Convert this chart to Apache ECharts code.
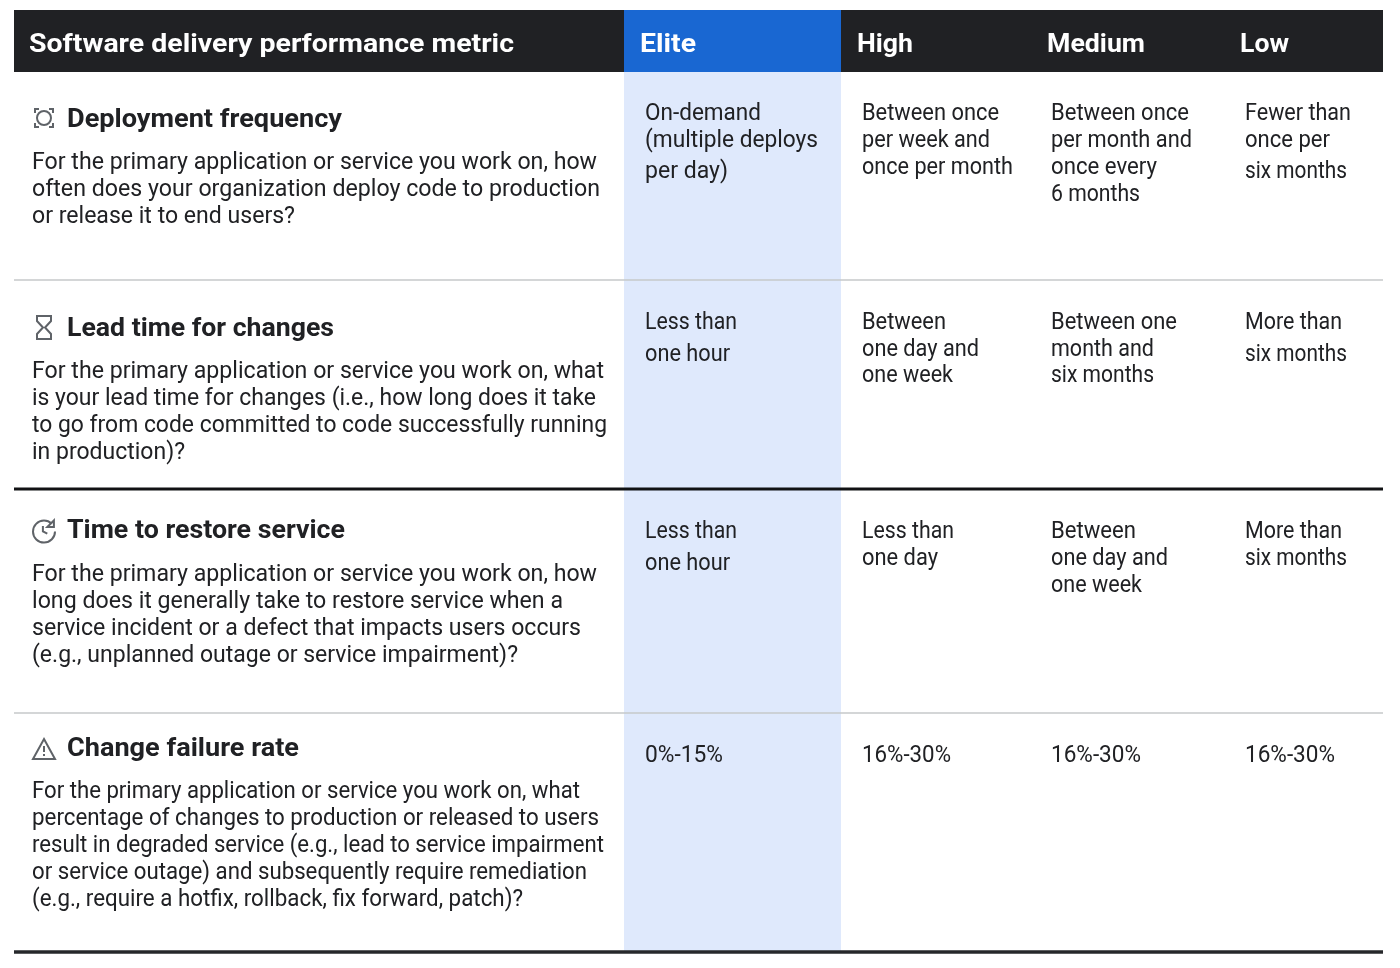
<!DOCTYPE html>
<html>
<head>
<meta charset="utf-8">
<title>Software delivery performance metric</title>
<script src="https://cdn.jsdelivr.net/npm/echarts@6/dist/echarts.min.js"></script>
<style>
  html, body { margin: 0; padding: 0; background: #fff; }
  #mainChart { width: 1400px; height: 968px; }
</style>
</head>
<body>
<div id="mainChart"></div>
<script>
// table content
const headers = ['Software delivery performance metric', 'Elite', 'High', 'Medium', 'Low'];
const metrics = ['Deployment frequency', 'Lead time for changes', 'Time to restore service', 'Change failure rate'];
const questions = [
  ['For the primary application or service you work on, how', 'often does your organization deploy code to production', 'or release it to end users?'],
  ['For the primary application or service you work on, what', 'is your lead time for changes (i.e., how long does it take', 'to go from code committed to code successfully running', 'in production)?'],
  ['For the primary application or service you work on, how', 'long does it generally take to restore service when a', 'service incident or a defect that impacts users occurs', '(e.g., unplanned outage or service impairment)?'],
  ['For the primary application or service you work on, what', 'percentage of changes to production or released to users', 'result in degraded service (e.g., lead to service impairment', 'or service outage) and subsequently require remediation', '(e.g., require a hotfix, rollback, fix forward, patch)?']
];
const elite = [
  ['On-demand', '(multiple deploys', 'per day)'],
  ['Less than', 'one hour'],
  ['Less than', 'one hour'],
  ['0%-15%']
];
const high = [
  ['Between once', 'per week and', 'once per month'],
  ['Between', 'one day and', 'one week'],
  ['Less than', 'one day'],
  ['16%-30%']
];
const medium = [
  ['Between once', 'per month and', 'once every', '6 months'],
  ['Between one', 'month and', 'six months'],
  ['Between', 'one day and', 'one week'],
  ['16%-30%']
];
const low = [
  ['Fewer than', 'once per', 'six months'],
  ['More than', 'six months'],
  ['More than', 'six months'],
  ['16%-30%']
];

// layout, in the pixel units of the hidden axes
const columnEdges = [14, 624, 841, 1031, 1224, 1383];
const headerTop = 10, headerBottom = 72;
const rowRules = [280, 489, 713, 952];
const ruleColors = ['#c6c8ca', '#111214', '#c6c8ca', '#26282b'];
const ruleWidths = [1.5, 3, 1.5, 3.5];
const headerX = [29, 640, 857, 1047, 1240];
const headerRight = [514, 696, 913, 1145, 1289];
const cellX = [645, 862, 1051, 1245];
const titleX = 67;
const titleRight = [342, 334, 345, 299];
const titleY = [118, 327, 529, 747];
const questionX = 32;
const questionY = [
  [161, 188, 215],
  [370, 397, 424, 451],
  [573, 600, 627, 654],
  [790, 817, 844, 871, 898]
];
const questionRight = [
  [597, 600, 295],
  [604, 596, 607, 185],
  [597, 563, 581, 518],
  [580, 599, 604, 587, 523]
];
const cellY = [
  [[112, 139, 170], [112, 139, 166], [112, 139, 166, 193], [112, 139, 170]],
  [[321, 353], [321, 348, 374], [321, 348, 374], [321, 353]],
  [[530, 562], [530, 557], [530, 557, 584], [530, 557]],
  [[754], [754], [754], [754]]
];
const cellRight = [
  [[761, 818, 728], [999, 990, 1013], [1189, 1192, 1157, 1140], [1351, 1330, 1347]],
  [[737, 730], [946, 979, 953], [1177, 1154, 1154], [1342, 1347]],
  [[737, 730], [954, 938], [1136, 1168, 1142], [1342, 1347]],
  [[723], [951], [1141], [1335]]
];
const iconPaths = [
  'M16 9A7 7 0 1 1 2 9A7 7 0 1 1 16 9Z M0 4V0H4 M14 0H18V4 M18 14V18H14 M4 18H0V14',
  'M0 0H14V5L8 11.5L14 18V23H0V18L6 11.5L0 5Z',
  'M19 5A10 10 0 1 0 22 12 M11 7V12L15 14 M21 2V8H15Z',
  'M12 0L23 20H1Z M12 7V13 M12 15V17'
];
const iconBoxes = [[35, 109, 18, 18], [37, 316, 14, 23], [33, 520, 22, 23], [33, 739, 22, 20]];

const ink = '#202124';
const bodyFont = 'Roboto, "Noto Sans", sans-serif';
const valueColumns = [elite, high, medium, low];

const textStyles = {
  head: { font: '700 26px ' + bodyFont, fill: '#ffffff', nudge: 2 },
  title: { font: '700 26px ' + bodyFont, fill: ink, nudge: 2 },
  body: { font: '400 23px ' + bodyFont, fill: ink, nudge: 2 }
};

// flat text list: [x, y, text, kind, right edge]
const textRows = [];
headers.forEach((h, i) => textRows.push([headerX[i], 43, h, 'head', headerRight[i]]));
metrics.forEach((m, r) => {
  textRows.push([titleX, titleY[r], m, 'title', titleRight[r]]);
  questions[r].forEach((line, l) => textRows.push([questionX, questionY[r][l], line, 'body', questionRight[r][l]]));
  valueColumns.forEach((col, c) => {
    col[r].forEach((line, l) => textRows.push([cellX[c], cellY[r][c][l], line, 'body', cellRight[r][c][l]]));
  });
});

// the original typeface has other widths, so each line is fitted to its reference width
const measure = document.createElement('canvas').getContext('2d');
function fitScale(row) {
  measure.font = textStyles[row[3]].font;
  return (row[4] - row[0]) / measure.measureText(row[2]).width;
}

// rectangles between axis positions: [x0, y0, x1, y1, color]
const rectRows = [
  [columnEdges[1], headerBottom, columnEdges[2], rowRules[3], '#dfe9fc'],
  [columnEdges[0], headerTop, columnEdges[5], headerBottom, '#202124'],
  [columnEdges[1], headerTop, columnEdges[2], headerBottom, '#1967d2']
];

const chart = echarts.init(document.getElementById('mainChart'), null, { renderer: 'canvas' });
chart.setOption({
  animation: false,
  backgroundColor: '#ffffff',
  grid: { left: 0, right: 0, top: 0, bottom: 0 },
  xAxis: { type: 'value', min: 0, max: 1400, show: false },
  yAxis: { type: 'value', min: 0, max: 968, inverse: true, show: false },
  series: [
    {
      type: 'custom',
      coordinateSystem: 'cartesian2d',
      silent: true,
      clip: false,
      data: rectRows,
      encode: { x: [0, 2], y: [1, 3] },
      renderItem: (params, api) => {
        const row = rectRows[params.dataIndex];
        const a = api.coord([row[0], row[1]]);
        const b = api.coord([row[2], row[3]]);
        return { type: 'rect', shape: { x: a[0], y: a[1], width: b[0] - a[0], height: b[1] - a[1] }, style: { fill: row[4] } };
      }
    },
    {
      type: 'custom',
      coordinateSystem: 'cartesian2d',
      silent: true,
      clip: false,
      data: rowRules,
      encode: { y: 0 },
      renderItem: (params, api) => {
        const a = api.coord([columnEdges[0], rowRules[params.dataIndex]]);
        const b = api.coord([columnEdges[5], rowRules[params.dataIndex]]);
        return {
          type: 'line',
          shape: { x1: a[0], y1: a[1], x2: b[0], y2: b[1] },
          style: { stroke: ruleColors[params.dataIndex], lineWidth: ruleWidths[params.dataIndex] }
        };
      }
    },
    {
      type: 'custom',
      coordinateSystem: 'cartesian2d',
      silent: true,
      clip: false,
      data: iconBoxes,
      encode: { x: 0, y: 1 },
      renderItem: (params, api) => {
        const box = iconBoxes[params.dataIndex];
        const p = api.coord([box[0], box[1]]);
        return {
          type: 'path',
          shape: { pathData: iconPaths[params.dataIndex], layout: 'center', x: p[0], y: p[1], width: box[2], height: box[3] },
          style: { fill: 'none', stroke: '#5f6368', lineWidth: 2 }
        };
      }
    },
    {
      type: 'custom',
      coordinateSystem: 'cartesian2d',
      silent: true,
      clip: false,
      data: textRows,
      encode: { x: 0, y: 1 },
      renderItem: (params, api) => {
        const row = textRows[params.dataIndex];
        const p = api.coord([row[0], row[1]]);
        const st = textStyles[row[3]];
        return {
          type: 'text',
          x: p[0],
          y: p[1] + st.nudge,
          scaleX: fitScale(row),
          style: { x: 0, y: 0, text: row[2], font: st.font, fill: st.fill, textAlign: 'left', textVerticalAlign: 'middle', verticalAlign: 'middle' }
        };
      }
    }
  ]
});
</script>
</body>
</html>
